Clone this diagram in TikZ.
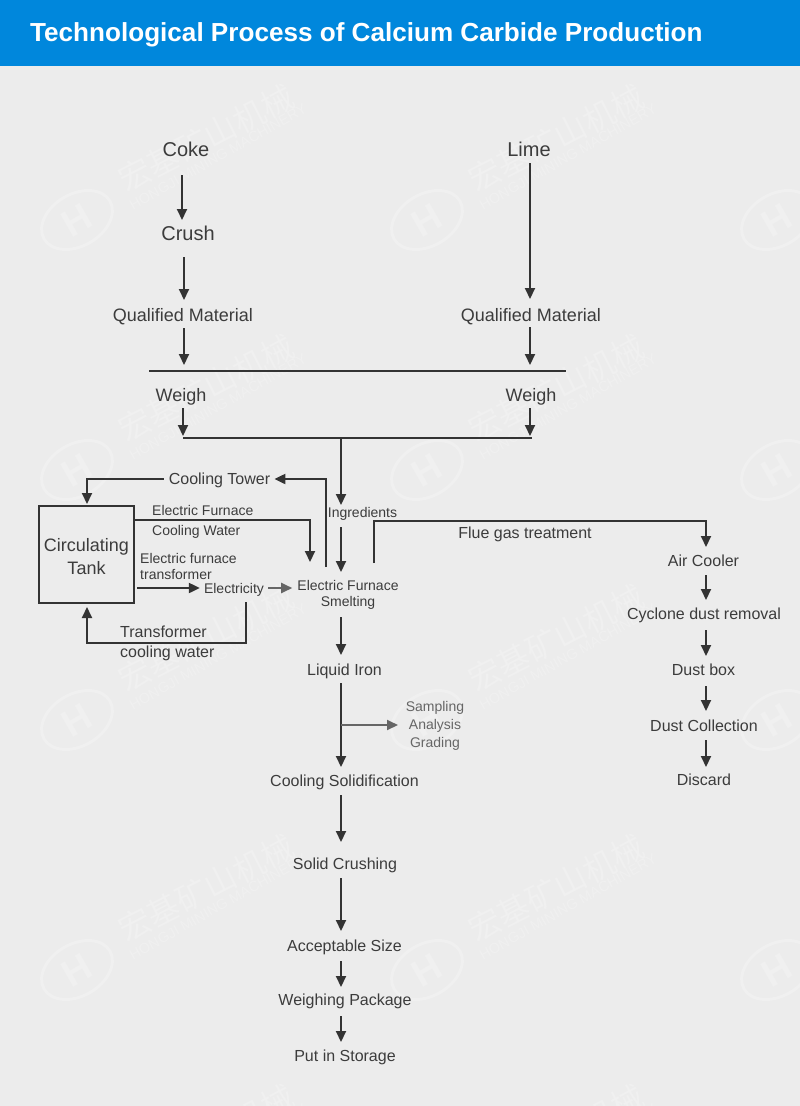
\documentclass[tikz,border=0pt]{standalone}
\usepackage{fontspec}
\setmainfont{Liberation Sans}
\newfontfamily\cjkmark{Noto Sans CJK SC}
\usetikzlibrary{arrows.meta}
\definecolor{pagegray}{HTML}{ECECEC}
\definecolor{barblue}{HTML}{0087DC}
\definecolor{inkgray}{HTML}{333333}
\definecolor{labelgray}{HTML}{3C3C3C}
\definecolor{softgray}{HTML}{666666}
\definecolor{markgray}{HTML}{F0F0F0}
\newcommand{\fsize}[2]{\fontsize{#1}{#2}\selectfont}
\tikzset{
    multi/.style={inner sep=0pt, text=labelgray, align=center, font=\fsize{16}{20}},
    lbl/.style={multi, text height=11.5pt, text depth=0pt},
    lblsmall/.style={multi, font=\fsize{14}{18}, text height=10pt, text depth=0pt},
    lblmid/.style={multi, font=\fsize{18}{22}, text height=13pt, text depth=0pt},
    lblbig/.style={multi, font=\fsize{20}{24}, text height=14.4pt, text depth=0pt},
    line/.style={draw=inkgray, line width=2pt},
    flow/.style={line, -{Triangle[length=11pt,width=10pt]}},
    softflow/.style={draw=softgray, line width=2pt, -{Triangle[length=11pt,width=10pt]}}
}

\begin{document}
\begin{tikzpicture}[x=1pt, y=-1pt]
            \useasboundingbox (0,0) rectangle (800,1106);
            \fill[pagegray] (0,0) rectangle (800,1106);

            \begin{scope}
            \clip (0,0) rectangle (800,1106);
            \foreach \col in {0,350,700} {
                \foreach \row in {0,250,500,750,1000} {
                    \begin{scope}[shift={(\col,\row)}]
                    \draw[markgray, line width=3pt] (77,220) ellipse [x radius=38, y radius=26, rotate=30];
                    \node (logo\col\row) [text=markgray, rotate=30, font=\fsize{38}{38}\bfseries] at (77,220) {H};
                    \node (markcn\col\row) [text=markgray, rotate=27, font=\fsize{32}{32}\cjkmark] at (206,138) {宏基矿山机械};
                    \node (markeng\col\row) [text=markgray, rotate=29.5, font=\fsize{14.4}{15}] at (218,157) {HONGJI MINING MACHINERY};
                    \end{scope}
                }
            }
            \end{scope}

            \fill[barblue] (0,0) rectangle (800,66);
            \node (title) [anchor=west, inner sep=0pt, text=white, font=\fsize{26.1}{30}\bfseries] at (30,35) {Technological Process of Calcium Carbide Production};

            \node (coke) [lblbig] at (186,149) {Coke};
            \node (lime) [lblbig] at (529,149) {Lime};
            \node (crush) [lblbig] at (188,233) {Crush};
            \node (qualifiedL) [lblmid] at (183,315) {Qualified Material};
            \node (qualifiedR) [lblmid] at (531,315) {Qualified Material};
            \node (weighL) [lblmid] at (181,395) {Weigh};
            \node (weighR) [lblmid] at (531,395) {Weigh};
            \coordinate (railStart) at (149,371);
            \coordinate (railEnd) at (566,371);
            \coordinate (mergeL) at (183,438);
            \coordinate (mergeR) at (532,438);
            \coordinate (mergeMid) at (341,438);

            \node (tower) [lbl] at (219.5,479) {Cooling Tower};
            \node (ingredients) [lblsmall] at (362.5,512) {Ingredients};
            \node (tank) [multi, draw=inkgray, line width=2pt, minimum width=95pt, minimum height=97pt, font=\fsize{18}{23}] at (86.5,554.5) {\rule{0pt}{17pt}Circulating\\Tank};
            \node (waterA) [lblsmall, anchor=west] at (152,510) {Electric Furnace};
            \node (waterB) [lblsmall, anchor=west] at (152,530) {Cooling Water};
            \node (transformerTxt) [multi, anchor=west, align=left, font=\fsize{14}{16}] at (140,566) {Electric furnace\\transformer};
            \node (electricity) [lblsmall] at (234,588) {Electricity};
            \node (furnace) [multi, font=\fsize{14}{16}] at (348,595) {Electric Furnace\\Smelting};
            \node (coolwater) [multi, anchor=west, align=left] at (120,643) {Transformer\\cooling water};
            \node (flue) [lbl] at (525,533) {Flue gas treatment};

            \node (iron) [lbl] at (344.5,670) {Liquid Iron};
            \node (sampling) [multi, text=softgray, font=\fsize{14}{18}] at (435,726) {Sampling\\Analysis\\Grading};
            \node (solidify) [lbl] at (344.5,781) {Cooling Solidification};
            \node (crushing) [lbl] at (345,864) {Solid Crushing};
            \node (size) [lbl] at (344.5,946) {Acceptable Size};
            \node (package) [lbl] at (345,1000) {Weighing Package};
            \node (storage) [lbl] at (345,1056) {Put in Storage};

            \node (aircooler) [lbl] at (703.5,561) {Air Cooler};
            \node (cyclone) [lbl] at (704,614) {Cyclone dust removal};
            \node (dustbox) [lbl] at (703.5,670) {Dust box};
            \node (collection) [lbl] at (704,726) {Dust Collection};
            \node (discard) [lbl] at (704,780) {Discard};

            \draw[flow] ([shift={(-4,26)}]coke.center) -- ([shift={(-6,-13)}]crush.center);
            \draw[flow] ([shift={(-4,24)}]crush.center) -- ([shift={(1,-15)}]qualifiedL.center);
            \draw[flow] ([shift={(1,13)}]qualifiedL.center) -- ([shift={(1,50)}]qualifiedL.center);
            \draw[flow] ([shift={(1,14)}]lime.center) -- ([shift={(-1,-16)}]qualifiedR.center);
            \draw[flow] ([shift={(-1,12)}]qualifiedR.center) -- ([shift={(-1,50)}]qualifiedR.center);
            \draw[line] (railStart) -- (railEnd);
            \draw[flow] ([shift={(2,13)}]weighL.center) -- ([shift={(2,41)}]weighL.center);
            \draw[flow] ([shift={(-1,13)}]weighR.center) -- ([shift={(-1,41)}]weighR.center);
            \draw[line] (mergeL) -- (mergeR);
            \draw[flow] (mergeMid) -- ([shift={(-21.5,-7)}]ingredients.center);
            \draw[flow] ([shift={(-21.5,15)}]ingredients.center) -- ([shift={(-7,-23)}]furnace.center);

            \draw[flow] ([shift={(-22,-28)}]furnace.center) |- ([xshift=4pt]tower.east);
            \draw[flow] ([xshift=-5pt]tower.west) -| ([shift={(0.5,-1)}]tank.north);
            \draw[flow] ([shift={(0,-34.5)}]tank.east) -| ([shift={(-38,-33)}]furnace.center);
            \draw[flow] ([shift={(2,33.5)}]tank.east) -- ([shift={(-4,0)}]electricity.west);
            \draw[softflow] ([shift={(4,0)}]electricity.east) -- ([shift={(-5,-7)}]furnace.west);
            \draw[flow] ([shift={(12,14)}]electricity.center) |- ([shift={(0.5,88.5)}]tank.center) -- ([shift={(0.5,3)}]tank.south);
            \draw[flow] ([shift={(26,-32)}]furnace.center) |- ([shift={(2.5,-40)}]aircooler.center) -- ([shift={(2.5,-14)}]aircooler.center);

            \draw[flow] ([shift={(-7,22)}]furnace.center) -- ([shift={(-3.5,-15)}]iron.center);
            \draw[flow] ([shift={(-3.5,13)}]iron.center) -- ([shift={(-3.5,-14)}]solidify.center);
            \coordinate (branch) at (341,725);
            \draw[softflow] (branch) -- ([shift={(-37,-1)}]sampling.center);
            \draw[flow] ([shift={(-3.5,14)}]solidify.center) -- ([shift={(-4,-22)}]crushing.center);
            \draw[flow] ([shift={(-4,14)}]crushing.center) -- ([shift={(-3.5,-15)}]size.center);
            \draw[flow] ([shift={(-3.5,15)}]size.center) -- ([shift={(-4,-13)}]package.center);
            \draw[flow] ([shift={(-4,16)}]package.center) -- ([shift={(-4,-14)}]storage.center);

            \draw[flow] ([shift={(2.5,14)}]aircooler.center) -- ([shift={(2,-14)}]cyclone.center);
            \draw[flow] ([shift={(2,16)}]cyclone.center) -- ([shift={(2.5,-14)}]dustbox.center);
            \draw[flow] ([shift={(2.5,16)}]dustbox.center) -- ([shift={(2,-15)}]collection.center);
            \draw[flow] ([shift={(2,14)}]collection.center) -- ([shift={(2,-13)}]discard.center);
\end{tikzpicture}
\end{document}
